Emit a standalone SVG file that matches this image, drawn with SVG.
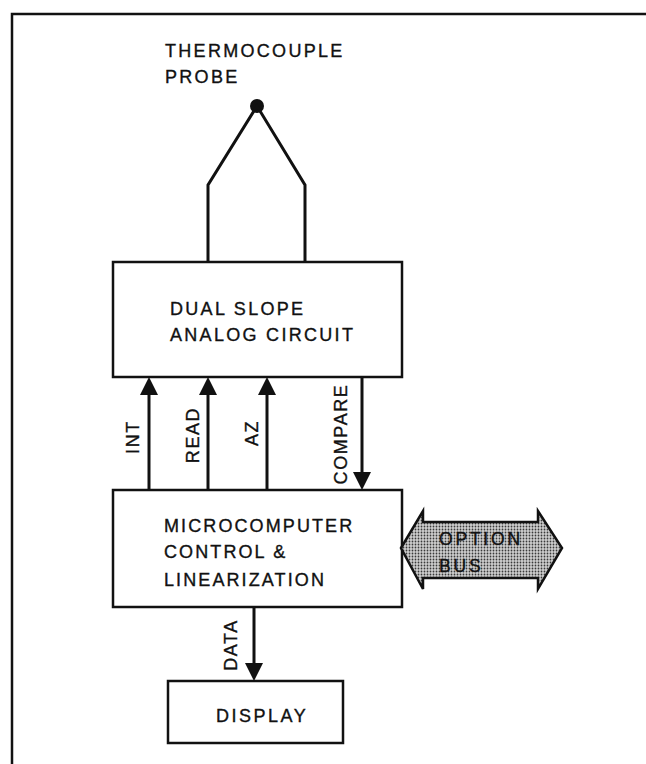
<svg xmlns="http://www.w3.org/2000/svg" width="646" height="764" viewBox="0 0 646 764">
<style>
.box{fill:#fff;stroke:#111;stroke-width:2.5}
.wire{fill:none;stroke:#111;stroke-width:3;stroke-linejoin:miter}
.arr{fill:none;stroke:#111;stroke-width:3}
text{font-family:"Liberation Sans",Arial,sans-serif;fill:#111;stroke:#111;stroke-width:0.35;font-size:18px;letter-spacing:2.3px}
.lbl{font-size:18px;letter-spacing:1.6px;text-anchor:middle}
.bus{font-size:17.5px;letter-spacing:2.8px}
</style>
<defs>
<marker id="ah" markerUnits="userSpaceOnUse" markerWidth="18" markerHeight="18" refX="12" refY="9" orient="auto">
<path d="M0,0 L18,9 L0,18 z" fill="#111"/>
</marker>
<pattern id="dots" width="3" height="3" patternUnits="userSpaceOnUse">
<rect width="3" height="3" fill="#cfcfcf"/>
<circle cx="1.5" cy="1.5" r="0.9" fill="#3a3a3a"/>
</pattern>
</defs>
<g id="frame">
<path d="M12,764 V14 H646" fill="none" stroke="#111" stroke-width="2.5"/>
</g>
<g id="probe">
<text x="165" y="57">THERMOCOUPLE</text>
<text x="165" y="83">PROBE</text>
<circle cx="257" cy="106" r="7" fill="#111"/>
</g>
<g id="analog">
<rect class="box" x="113" y="262" width="289" height="115"/>
<text x="170" y="315">DUAL SLOPE</text>
<text x="170" y="341">ANALOG CIRCUIT</text>
</g>
<g id="micro">
<rect class="box" x="113" y="490" width="289" height="117"/>
<text x="164" y="532" style="letter-spacing:2.1px">MICROCOMPUTER</text>
<text x="164" y="558" style="letter-spacing:2.1px">CONTROL &amp;</text>
<text x="164" y="586" style="letter-spacing:2.1px">LINEARIZATION</text>
</g>
<g id="display">
<rect class="box" x="168" y="681" width="175" height="62"/>
<text x="216" y="722" style="letter-spacing:2.5px">DISPLAY</text>
</g>
<g id="optionbus">
<polygon points="401,548 423,511 423,522 538,522 538,511 562,548 538,589 538,578 423,578 423,589" fill="url(#dots)" stroke="#111" stroke-width="2.5" stroke-linejoin="miter"/>
<text class="bus" x="439" y="545">OPTION</text>
<text class="bus" x="439" y="572">BUS</text>
</g>
<g id="connectors">
<path class="wire" d="M208,262 V185 L257,106 L305,185 V262"/>
<line class="arr" x1="149" y1="490" x2="149" y2="383" marker-end="url(#ah)"/>
<line class="arr" x1="208" y1="490" x2="208" y2="383" marker-end="url(#ah)"/>
<line class="arr" x1="267" y1="490" x2="267" y2="383" marker-end="url(#ah)"/>
<line class="arr" x1="362" y1="377" x2="362" y2="484" marker-end="url(#ah)"/>
<line class="arr" x1="254" y1="607" x2="254" y2="675" marker-end="url(#ah)"/>
<text class="lbl" transform="translate(139,437) rotate(-90)">INT</text>
<text class="lbl" transform="translate(199,435) rotate(-90)">READ</text>
<text class="lbl" transform="translate(258,433) rotate(-90)">AZ</text>
<text class="lbl" transform="translate(347,434) rotate(-90)">COMPARE</text>
<text class="lbl" transform="translate(237,645) rotate(-90)">DATA</text>
</g>
</svg>
